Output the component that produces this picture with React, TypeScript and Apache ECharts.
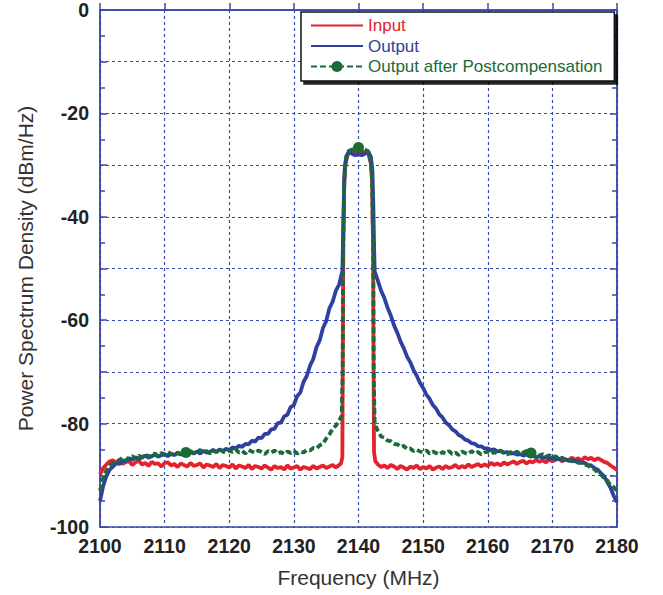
import React, { useEffect, useRef } from "react";
import * as echarts from "echarts";

const xTicks = [2100, 2110, 2120, 2130, 2140, 2150, 2160, 2170, 2180];
const yLabelValues = [0, -20, -40, -60, -80, -100];

const inputData: [number, number][] = [
  [2100, -89.8], [2100.5, -88.6], [2101, -87.9], [2101.5, -87.3], [2102, -87.1], [2102.5, -87.6],
  [2103, -87.1], [2103.5, -87.8], [2104, -87.4], [2104.5, -87.3], [2105, -88.0], [2105.5, -87.5],
  [2106, -87.2], [2106.5, -87.9], [2107, -87.6], [2107.5, -88.2], [2108, -87.4], [2108.5, -87.8],
  [2109, -87.7], [2109.5, -88.3], [2110, -87.6], [2110.5, -87.5], [2111, -88.1], [2111.5, -87.8],
  [2112, -88.4], [2112.5, -87.7], [2113, -88.0], [2113.5, -88.3], [2114, -87.6], [2114.5, -88.2],
  [2115, -88.0], [2115.5, -87.7], [2116, -88.5], [2116.5, -87.9], [2117, -88.1], [2117.5, -88.4],
  [2118, -87.8], [2118.5, -88.6], [2119, -88.0], [2119.5, -88.2], [2120, -88.5], [2120.5, -87.9],
  [2121, -88.7], [2121.5, -88.1], [2122, -88.3], [2122.5, -88.6], [2123, -88.0], [2123.5, -88.8],
  [2124, -88.2], [2124.5, -88.4], [2125, -88.7], [2125.5, -88.1], [2126, -88.5], [2126.5, -88.9],
  [2127, -88.2], [2127.5, -88.6], [2128, -88.4], [2128.5, -88.9], [2129, -88.1], [2129.5, -88.7],
  [2130, -88.5], [2130.5, -88.2], [2131, -88.9], [2131.5, -88.4], [2132, -88.6], [2132.5, -88.8],
  [2133, -88.2], [2133.5, -88.7], [2134, -88.4], [2134.5, -88.1], [2135, -88.6], [2135.5, -88.3],
  [2136, -88.0], [2136.5, -88.5], [2137, -88.0], [2137.3, -87.7], [2137.5, -86.5], [2137.6, -60],
  [2137.65, -45], [2137.8, -33], [2138.0, -29.6], [2138.4, -27.7], [2139, -27.4], [2139.5, -27.6],
  [2140, -27.3], [2140.5, -27.6], [2141, -27.4], [2141.5, -27.7], [2141.9, -29.6], [2142.1, -33],
  [2142.25, -45], [2142.3, -60], [2142.4, -85.5], [2142.6, -87.3], [2143, -87.9], [2143.5, -88.4],
  [2144, -88.1], [2144.5, -88.6], [2145, -88.0], [2145.5, -88.3], [2146, -88.8], [2146.5, -88.2],
  [2147, -88.5], [2147.5, -88.9], [2148, -88.3], [2148.5, -88.6], [2149, -88.1], [2149.5, -88.8],
  [2150, -88.4], [2150.5, -88.7], [2151, -88.2], [2151.5, -88.9], [2152, -88.5], [2152.5, -88.3],
  [2153, -88.8], [2153.5, -88.2], [2154, -88.6], [2154.5, -88.4], [2155, -88.0], [2155.5, -88.6],
  [2156, -88.2], [2156.5, -88.5], [2157, -87.9], [2157.5, -88.4], [2158, -88.1], [2158.5, -87.8],
  [2159, -88.3], [2159.5, -87.9], [2160, -88.2], [2160.5, -87.6], [2161, -88.0], [2161.5, -87.7],
  [2162, -88.1], [2162.5, -87.5], [2163, -87.9], [2163.5, -87.6], [2164, -87.3], [2164.5, -87.8],
  [2165, -87.4], [2165.5, -87.2], [2166, -87.7], [2166.5, -87.3], [2167, -87.5], [2167.5, -87.0],
  [2168, -87.4], [2168.5, -87.1], [2169, -87.5], [2169.5, -86.9], [2170, -87.3], [2170.5, -87.0],
  [2171, -86.8], [2171.5, -87.3], [2172, -86.9], [2172.5, -87.1], [2173, -86.6], [2173.5, -87.0],
  [2174, -86.7], [2174.5, -87.2], [2175, -86.5], [2175.5, -86.9], [2176, -86.6], [2176.5, -87.1],
  [2177, -86.7], [2177.5, -87.0], [2178, -87.4], [2178.5, -87.6], [2179, -88.1], [2179.5, -88.5],
  [2180, -89.0],
];

const outputData: [number, number][] = [
  [2100, -95.0], [2100.5, -92.0], [2101, -90.1], [2101.5, -88.9], [2102, -88.3], [2102.5, -87.7],
  [2103, -87.8], [2103.5, -87.1], [2104, -87.3], [2104.5, -86.7], [2105, -87.0], [2105.5, -86.5],
  [2106, -86.8], [2106.5, -86.6], [2107, -86.2], [2107.5, -86.6], [2108, -86.3], [2108.5, -86.0],
  [2109, -86.4], [2109.5, -86.1], [2110, -85.9], [2110.5, -86.3], [2111, -85.8], [2111.5, -86.1],
  [2112, -85.7], [2112.5, -86.0], [2113, -85.6], [2113.5, -85.9], [2114, -85.5], [2114.5, -85.8],
  [2115, -85.4], [2115.5, -85.8], [2116, -85.3], [2116.5, -85.6], [2117, -85.5], [2117.5, -85.1],
  [2118, -85.5], [2118.5, -85.0], [2119, -85.3], [2119.5, -84.9], [2120, -85.1], [2120.5, -84.6],
  [2121, -84.8], [2121.5, -84.3], [2122, -84.5], [2122.5, -83.9], [2123, -84.0], [2123.5, -83.3],
  [2124, -83.5], [2124.5, -82.7], [2125, -82.8], [2125.5, -82.0], [2126, -82.0], [2126.5, -81.1],
  [2127, -81.0], [2127.5, -79.9], [2128, -79.8], [2128.5, -78.6], [2129, -78.3], [2129.5, -76.8],
  [2130, -76.4], [2130.5, -74.7], [2131, -74.0], [2131.5, -71.9], [2132, -70.8], [2132.5, -68.8],
  [2133, -67.5], [2133.5, -65.2], [2134, -63.9], [2134.5, -61.5], [2135, -60.2], [2135.5, -57.7],
  [2136, -56.4], [2136.5, -54.3], [2137, -53.1], [2137.5, -50.5], [2137.6, -45], [2137.7, -38],
  [2137.85, -31], [2138.1, -28.3], [2138.5, -27.4], [2139, -27.8], [2139.5, -28.1], [2140, -27.9],
  [2140.5, -28.1], [2141, -27.8], [2141.5, -27.4], [2141.9, -28.3], [2142.15, -31], [2142.3, -38],
  [2142.4, -45], [2142.5, -50.5], [2143, -52.4], [2143.5, -54.3], [2144, -55.7], [2144.5, -57.6],
  [2145, -59.1], [2145.5, -61.0], [2146, -62.4], [2146.5, -64.1], [2147, -65.4], [2147.5, -67.0],
  [2148, -68.1], [2148.5, -69.6], [2149, -70.7], [2149.5, -72.1], [2150, -73.1], [2150.5, -74.4],
  [2151, -75.2], [2151.5, -76.4], [2152, -77.1], [2152.5, -78.2], [2153, -78.8], [2153.5, -79.8],
  [2154, -80.3], [2154.5, -81.1], [2155, -81.5], [2155.5, -82.2], [2156, -82.5], [2156.5, -83.1],
  [2157, -83.3], [2157.5, -83.8], [2158, -83.9], [2158.5, -84.4], [2159, -84.4], [2159.5, -84.8],
  [2160, -84.8], [2160.5, -85.1], [2161, -85.0], [2161.5, -85.4], [2162, -85.2], [2162.5, -85.6],
  [2163, -85.5], [2163.5, -85.8], [2164, -85.7], [2164.5, -86.0], [2165, -85.9], [2165.5, -86.2],
  [2166, -86.0], [2166.5, -86.3], [2167, -86.2], [2167.5, -86.5], [2168, -86.3], [2168.5, -86.6],
  [2169, -86.5], [2169.5, -86.8], [2170, -86.6], [2170.5, -86.9], [2171, -86.8], [2171.5, -87.0],
  [2172, -86.9], [2172.5, -87.2], [2173, -87.1], [2173.5, -87.3], [2174, -87.3], [2174.5, -87.6],
  [2175, -87.6], [2175.5, -88.0], [2176, -88.1], [2176.5, -88.6], [2177, -88.9], [2177.5, -89.6],
  [2178, -90.2], [2178.5, -91.3], [2179, -92.4], [2179.5, -94.0], [2180, -95.2],
];

const postcompData: [number, number][] = [
  [2100, -93.0], [2100.5, -90.5], [2101, -89.0], [2101.5, -88.2], [2102, -87.6], [2102.5, -87.4],
  [2103, -87.0], [2103.5, -86.6], [2104, -87.1], [2104.5, -86.5], [2105, -86.3], [2105.5, -86.8],
  [2106, -86.2], [2106.5, -86.5], [2107, -85.9], [2107.5, -86.4], [2108, -86.1], [2108.5, -85.8],
  [2109, -86.3], [2109.5, -85.7], [2110, -86.0], [2110.5, -85.5], [2111, -85.9], [2111.5, -86.2],
  [2112, -85.6], [2112.5, -85.9], [2113, -85.4], [2113.3, -85.6], [2113.5, -85.8], [2114, -85.3],
  [2114.5, -85.7], [2115, -85.5], [2115.5, -85.1], [2116, -85.6], [2116.5, -85.3], [2117, -85.8],
  [2117.5, -85.2], [2118, -85.5], [2118.5, -85.0], [2119, -85.4], [2119.5, -85.7], [2120, -85.2],
  [2120.5, -85.5], [2121, -85.0], [2121.5, -85.6], [2122, -85.3], [2122.5, -85.8], [2123, -85.1],
  [2123.5, -85.4], [2124, -85.7], [2124.5, -85.2], [2125, -85.5], [2125.5, -85.9], [2126, -85.3],
  [2126.5, -85.6], [2127, -85.2], [2127.5, -85.8], [2128, -85.5], [2128.5, -85.9], [2129, -85.4],
  [2129.5, -85.7], [2130, -85.3], [2130.5, -85.8], [2131, -85.4], [2131.5, -85.6], [2132, -85.1],
  [2132.5, -85.2], [2133, -84.7], [2133.5, -84.8], [2134, -84.2], [2134.5, -83.9], [2135, -82.9],
  [2135.5, -82.1], [2136, -81.0], [2136.5, -80.4], [2137, -79.4], [2137.4, -78.5], [2137.55, -70],
  [2137.6, -50], [2137.65, -45], [2137.8, -33], [2138.0, -29.3], [2138.4, -27.3], [2139, -27.0],
  [2139.5, -26.9], [2140, -26.6], [2140.5, -26.9], [2141, -27.0], [2141.5, -27.3], [2141.9, -29.3],
  [2142.1, -33], [2142.25, -45], [2142.3, -50], [2142.35, -70], [2142.5, -80.0], [2143, -81.4],
  [2143.5, -82.5], [2144, -82.7], [2144.5, -83.3], [2145, -83.4], [2145.5, -83.9], [2146, -84.0],
  [2146.5, -84.5], [2147, -84.3], [2147.5, -84.9], [2148, -84.8], [2148.5, -85.3], [2149, -85.0],
  [2149.5, -85.4], [2150, -85.5], [2150.5, -85.2], [2151, -85.8], [2151.5, -85.4], [2152, -85.7],
  [2152.5, -86.0], [2153, -85.5], [2153.5, -85.8], [2154, -85.3], [2154.5, -85.9], [2155, -85.6],
  [2155.5, -86.1], [2156, -85.4], [2156.5, -85.7], [2157, -85.9], [2157.5, -85.3], [2158, -85.8],
  [2158.5, -85.5], [2159, -86.0], [2159.5, -85.6], [2160, -85.4], [2160.5, -85.9], [2161, -85.5],
  [2161.5, -85.8], [2162, -85.3], [2162.5, -85.7], [2163, -86.0], [2163.5, -85.5], [2164, -85.8],
  [2164.5, -85.4], [2165, -85.9], [2165.5, -85.6], [2166, -85.3], [2166.7, -85.7], [2167, -86.0],
  [2167.5, -85.8], [2168, -86.2], [2168.5, -85.9], [2169, -86.4], [2169.5, -86.1], [2170, -86.6],
  [2170.5, -86.3], [2171, -86.8], [2171.5, -86.6], [2172, -87.0], [2172.5, -86.8], [2173, -87.3],
  [2173.5, -87.2], [2174, -87.6], [2174.5, -87.6], [2175, -88.0], [2175.5, -88.1], [2176, -88.6],
  [2176.5, -88.8], [2177, -89.5], [2177.5, -89.8], [2178, -90.5], [2178.5, -91.0], [2179, -91.9],
  [2179.5, -92.3], [2180, -93.0],
];

const postcompMarkerFreqs = [2113.3, 2140, 2166.7];

const seriesNames = ["Input", "Output", "Output after Postcompensation"];

const RED = "#e3222b";
const BLUE = "#2e41a0";
const GREEN = "#1b6b35";
const AXIS = "#3a4aa8";
const FONT = "'Liberation Sans', Arial, Helvetica, sans-serif";

export default function App() {
  const ref = useRef<HTMLDivElement>(null);

  useEffect(() => {
    if (!ref.current) return;
    const chart = echarts.init(ref.current, undefined, { renderer: "svg" });

    const greenData = postcompData.map(([f, v]) =>
      postcompMarkerFreqs.includes(f)
        ? { value: [f, v], symbol: "circle", symbolSize: 11 }
        : { value: [f, v], symbol: "none" }
    );

    const axisLineStyle = { color: AXIS, width: 1.5 };
    const splitLineStyle = { color: AXIS, width: 1.2, type: [3, 3] as number[] };

    chart.setOption({
      animation: false,
      backgroundColor: "#ffffff",
      textStyle: { fontFamily: FONT },
      grid: {
        left: 100,
        top: 10,
        right: 46,
        bottom: 68,
        show: true,
        borderColor: AXIS,
        borderWidth: 1.5,
        backgroundColor: "transparent",
      },
      legend: {
        orient: "vertical",
        left: 301,
        top: 12,
        backgroundColor: "#ffffff",
        borderColor: "#111111",
        borderWidth: 1.5,
        padding: [5, 12, 6, 9],
        itemWidth: 52,
        itemHeight: 14,
        itemGap: 3.5,
        shadowColor: "rgba(0,0,0,0.85)",
        shadowBlur: 1,
        shadowOffsetX: 3,
        shadowOffsetY: 3,
        textStyle: { fontSize: 17, fontFamily: FONT },
        data: [
          { name: seriesNames[0], textStyle: { color: RED }, itemStyle: { opacity: 0 } },
          { name: seriesNames[1], textStyle: { color: BLUE }, itemStyle: { opacity: 0 } },
          { name: seriesNames[2], textStyle: { color: GREEN } },
        ],
      },
      xAxis: {
        type: "value",
        min: xTicks[0],
        max: xTicks[xTicks.length - 1],
        interval: 10,
        axisLine: { show: true, lineStyle: axisLineStyle },
        axisTick: { show: true, inside: true, length: 7, lineStyle: axisLineStyle },
        splitLine: { show: true, lineStyle: splitLineStyle },
        axisLabel: {
          fontSize: 19.5,
          fontWeight: "bold",
          color: "#222222",
          margin: 9,
          fontFamily: FONT,
          formatter: (v: number) => (xTicks.includes(v) ? String(v) : ""),
        },
        name: "Frequency (MHz)",
        nameLocation: "middle",
        nameGap: 40,
        nameTextStyle: { fontSize: 21, color: "#333333", fontFamily: FONT },
      },
      yAxis: [
        {
          type: "value",
          min: -100,
          max: 0,
          interval: 10,
          axisLine: { show: true, lineStyle: axisLineStyle },
          axisTick: { show: true, inside: true, length: 7, lineStyle: axisLineStyle },
          minorTick: { show: true, splitNumber: 2, length: 5, lineStyle: axisLineStyle },
          splitLine: { show: true, lineStyle: splitLineStyle },
          axisLabel: {
            fontSize: 19.5,
            fontWeight: "bold",
            color: "#222222",
            margin: 11,
            fontFamily: FONT,
            formatter: (v: number) => (yLabelValues.includes(v) ? String(v) : ""),
          },
          name: "Power Spectrum Density (dBm/Hz)",
          nameLocation: "middle",
          nameGap: 64,
          nameTextStyle: { fontSize: 21, color: "#333333", fontFamily: FONT },
        },
        {
          type: "value",
          position: "right",
          min: -100,
          max: 0,
          interval: 10,
          axisLine: { show: true, lineStyle: axisLineStyle },
          axisTick: { show: true, inside: true, length: 7, lineStyle: axisLineStyle },
          minorTick: { show: true, splitNumber: 2, length: 5, lineStyle: axisLineStyle },
          splitLine: { show: false },
          axisLabel: { show: false },
        },
      ],
      series: [
        {
          name: seriesNames[0],
          type: "line",
          data: inputData,
          showSymbol: false,
          symbol: "none",
          lineStyle: { color: RED, width: 3.8 },
          itemStyle: { color: RED },
          z: 2,
        },
        {
          name: seriesNames[1],
          type: "line",
          data: outputData,
          showSymbol: false,
          symbol: "none",
          lineStyle: { color: BLUE, width: 3.8 },
          itemStyle: { color: BLUE },
          z: 3,
        },
        {
          name: seriesNames[2],
          type: "line",
          data: greenData,
          showSymbol: true,
          symbol: "circle",
          symbolSize: 11,
          lineStyle: { color: GREEN, width: 3.8, type: [6, 3] },
          itemStyle: { color: GREEN, borderWidth: 0 },
          z: 4,
        },
      ],
    });

    return () => chart.dispose();
  }, []);

  return (
    <div
      ref={ref}
      style={{ position: "fixed", left: 0, top: 0, width: 663, height: 595, background: "#fff" }}
    />
  );
}
